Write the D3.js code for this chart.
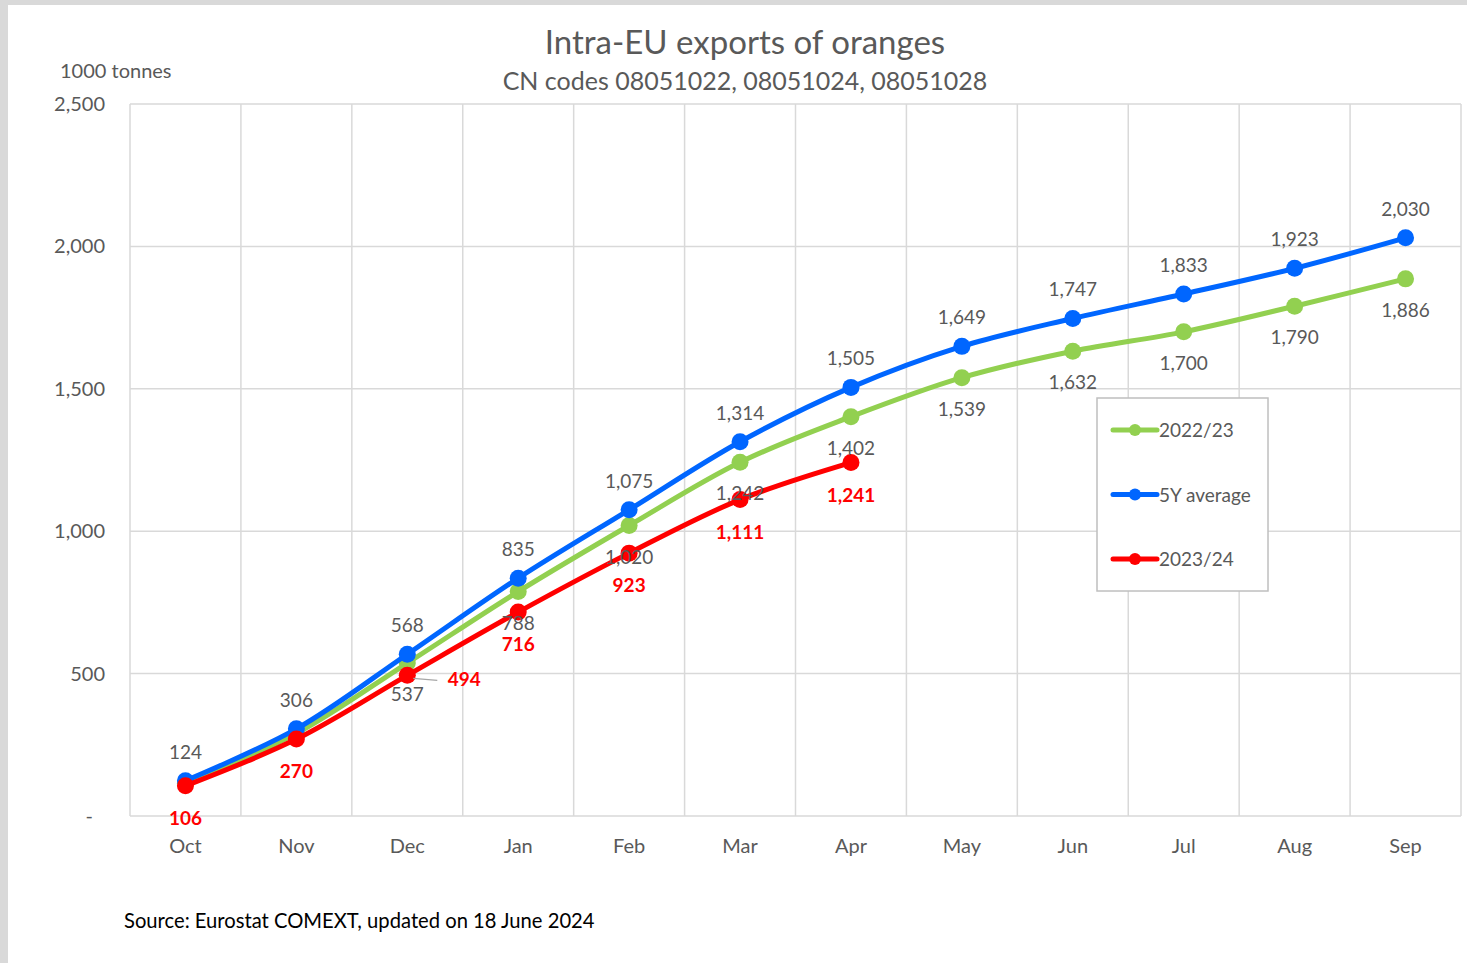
<!DOCTYPE html>
<html>
<head>
<meta charset="utf-8">
<script src="https://cdn.jsdelivr.net/npm/d3@7"></script>
<style>
  body { margin: 0; background: #d9d9d9; }
  svg { display: block; }
  text { font-family: Lato, "Open Sans", sans-serif; fill: #595959; }
</style>
</head>
<body>
<div id="chart"></div>
<script>
// months of the marketing year
var months = ["Oct", "Nov", "Dec", "Jan", "Feb", "Mar", "Apr", "May", "Jun", "Jul", "Aug", "Sep"];

// cumulative exports, 1000 tonnes
var season2223 = [115, 290, 537, 788, 1020, 1242, 1402, 1539, 1632, 1700, 1790, 1886];
var avg5y = [124, 306, 568, 835, 1075, 1314, 1505, 1649, 1747, 1833, 1923, 2030];
var season2324 = [106, 270, 494, 716, 923, 1111, 1241];

var yTicks = [0, 500, 1000, 1500, 2000, 2500];
var legendNames = ["2022/23", "5Y average", "2023/24"];

var width = 1467, height = 963;
var margin = {top: 104, right: 6, bottom: 147, left: 130};

var svg = d3.select("#chart").append("svg")
    .attr("width", width)
    .attr("height", height);

// white page with grey border top/left
svg.append("rect")
    .attr("x", 8).attr("y", 5)
    .attr("width", width - 8).attr("height", height - 5)
    .attr("fill", "#fff");

var x = d3.scaleBand()
    .domain(months)
    .range([margin.left, width - margin.right]);

var y = d3.scaleLinear()
    .domain([0, 2500])
    .range([height - margin.bottom, margin.top]);

// grid
var grid = svg.append("g");
grid.selectAll(".hg")
    .data(yTicks)
    .enter().append("line")
    .attr("x1", margin.left).attr("x2", width - margin.right)
    .attr("y1", function(d) { return y(d); })
    .attr("y2", function(d) { return y(d); })
    .attr("stroke", "#d9d9d9").attr("stroke-width", 1.5);

var bounds = months.map(function(m) { return x(m); }).concat([width - margin.right]);
grid.selectAll(".vg")
    .data(bounds)
    .enter().append("line")
    .attr("x1", function(d) { return d; }).attr("x2", function(d) { return d; })
    .attr("y1", y(2500)).attr("y2", y(0))
    .attr("stroke", "#d9d9d9").attr("stroke-width", 1.5);

// y axis labels
var yAxis = svg.append("g")
    .attr("transform", "translate(" + margin.left + ",0)")
    .call(d3.axisLeft(y).tickValues(yTicks).tickSize(0).tickPadding(25)
        .tickFormat(function(d) { return d === 0 ? "-" : d3.format(",")(d); }));
yAxis.select(".domain").remove();
yAxis.selectAll("text")
    .style("font-size", "20px")
    .attr("fill", "#595959")
    .attr("dx", function(d) { return d === 0 ? -12 : 0; });

// x axis labels
var xAxis = svg.append("g")
    .attr("transform", "translate(0," + y(0) + ")")
    .call(d3.axisBottom(x).tickSize(0).tickPadding(23));
xAxis.select(".domain").remove();
xAxis.selectAll("text")
    .style("font-size", "20px")
    .attr("fill", "#595959");

// titles
svg.append("text")
    .text("Intra-EU exports of oranges")
    .attr("x", 745).attr("y", 54)
    .attr("text-anchor", "middle")
    .style("font-size", "33px");
svg.append("text")
    .text("CN codes 08051022, 08051024, 08051028")
    .attr("x", 745).attr("y", 90)
    .attr("text-anchor", "middle")
    .style("font-size", "25px");
svg.append("text")
    .text("1000 tonnes")
    .attr("x", 60).attr("y", 78)
    .style("font-size", "20px");
svg.append("text")
    .text("Source: Eurostat COMEXT, updated on 18 June 2024")
    .attr("x", 124).attr("y", 928)
    .style("font-size", "20.2px")
    .style("fill", "#000");

var line = d3.line()
    .x(function(d, i) { return x(months[i]) + x.bandwidth() / 2; })
    .y(function(d) { return y(d); })
    .curve(d3.curveCatmullRom.alpha(0.5));

var series = [
    {name: legendNames[0], values: season2223, color: "#92d050"},
    {name: legendNames[1], values: avg5y, color: "#0066ff"},
    {name: legendNames[2], values: season2324, color: "#ff0000"}
];

series.forEach(function(s) {
    var g = svg.append("g");
    g.append("path")
        .datum(s.values)
        .attr("d", line)
        .attr("fill", "none")
        .attr("stroke", s.color)
        .attr("stroke-width", 5);
    g.selectAll("circle")
        .data(s.values)
        .enter().append("circle")
        .attr("cx", function(d, i) { return x(months[i]) + x.bandwidth() / 2; })
        .attr("cy", function(d) { return y(d); })
        .attr("r", 8.5)
        .attr("fill", s.color);
});

// data labels
var cx = function(i) { return x(months[i]) + x.bandwidth() / 2; };

svg.append("g").selectAll("text")
    .data(avg5y)
    .enter().append("text")
    .attr("x", function(d, i) { return cx(i); })
    .attr("y", function(d) { return y(d) - 22; })
    .attr("text-anchor", "middle")
    .style("font-size", "19px")
    .text(d3.format(","));

svg.append("g").selectAll("text")
    .data(season2223.slice(2))
    .enter().append("text")
    .attr("x", function(d, i) { return cx(i + 2); })
    .attr("y", function(d) { return y(d) + 38; })
    .attr("text-anchor", "middle")
    .style("font-size", "19px")
    .text(d3.format(","));

// leader line for the Dec label
svg.append("line")
    .attr("x1", cx(2) + 6).attr("y1", y(season2324[2]) + 3)
    .attr("x2", cx(2) + 30).attr("y2", y(season2324[2]) + 5)
    .attr("stroke", "#a6a6a6").attr("stroke-width", 1.2);

svg.append("g").selectAll("text")
    .data(season2324)
    .enter().append("text")
    .attr("x", function(d, i) { return i === 2 ? cx(i) + 57 : cx(i); })
    .attr("y", function(d, i) { return i === 2 ? y(d) + 11 : y(d) + 39; })
    .attr("text-anchor", "middle")
    .style("font-size", "19px")
    .style("font-weight", "bold")
    .style("fill", "#ff0000")
    .text(d3.format(","));

// legend
var legend = svg.append("g");
legend.append("rect")
    .attr("x", 1097).attr("y", 398)
    .attr("width", 171).attr("height", 193)
    .attr("fill", "#fff")
    .attr("stroke", "#bfbfbf").attr("stroke-width", 1.5);

var item = legend.selectAll(".item")
    .data(series)
    .enter().append("g")
    .attr("transform", function(d, i) { return "translate(1113," + (430 + i * 64.5) + ")"; });
item.append("line")
    .attr("x1", 0).attr("x2", 44)
    .attr("stroke", function(d) { return d.color; })
    .attr("stroke-width", 5)
    .attr("stroke-linecap", "round");
item.append("circle")
    .attr("cx", 22).attr("r", 6)
    .attr("fill", function(d) { return d.color; });
item.append("text")
    .attr("x", 46).attr("y", 7)
    .style("font-size", "19px")
    .text(function(d) { return d.name; });
</script>
</body>
</html>
